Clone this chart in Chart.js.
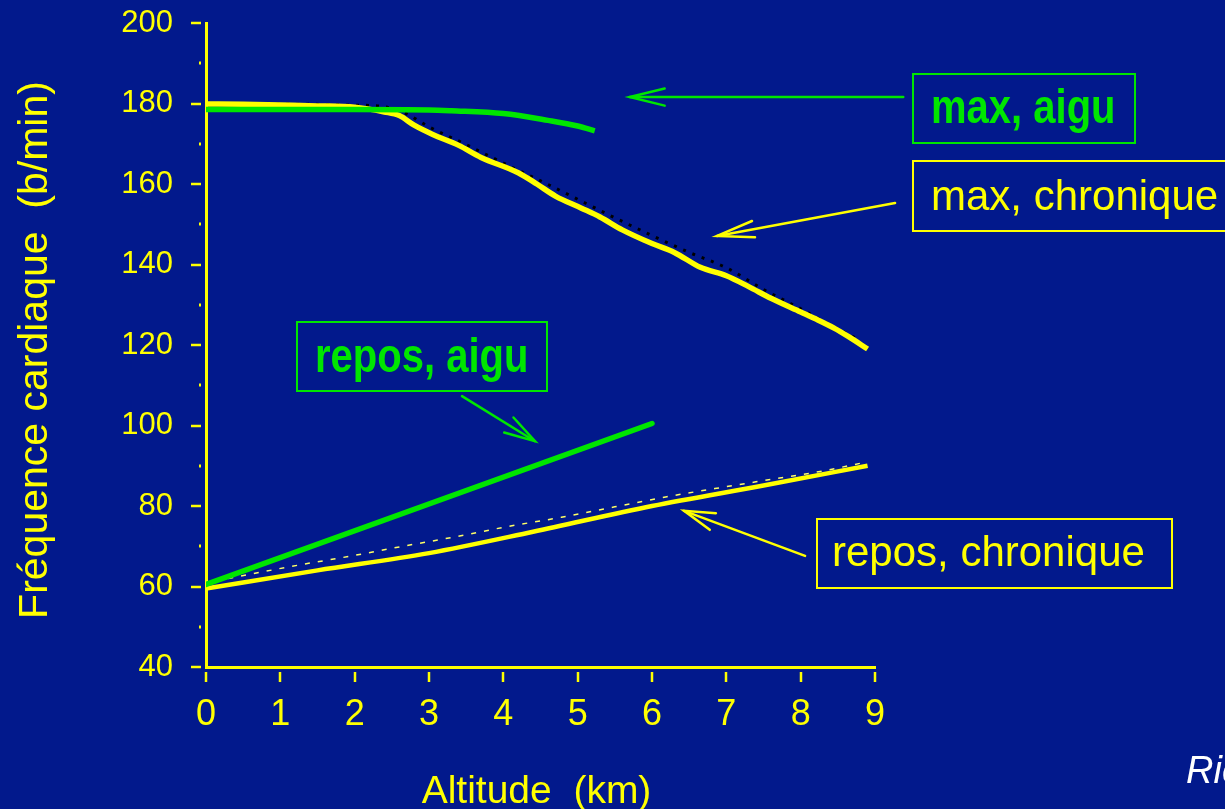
<!DOCTYPE html>
<html><head><meta charset="utf-8">
<script src="https://cdn.jsdelivr.net/npm/chart.js@4.4.1/dist/chart.umd.min.js"></script>
<style>
html,body{margin:0;padding:0;background:#02198c;overflow:hidden;width:1225px;height:809px;}
#wrap{position:relative;width:1225px;height:809px;overflow:hidden;}
canvas{position:absolute;left:0;top:0;}
.box{position:absolute;box-sizing:border-box;border:2.5px solid;}
.lbl{position:absolute;white-space:nowrap;font-family:"Liberation Sans",Arial,sans-serif;}
.stretch{transform:scaleY(1.18);transform-origin:0 33.85px;}
</style></head><body>
<div id="wrap">
<canvas id="c" width="1225" height="809"></canvas>
<div class="box" style="left:912px;top:73px;width:224px;height:71px;border-color:#00e600;"></div>
<div class="lbl stretch" style="left:931px;top:89px;font-size:40px;line-height:40px;font-weight:bold;color:#00e600;">max, aigu</div>
<div class="box" style="left:912px;top:160px;width:340px;height:72px;border-color:#ffff00;"></div>
<div class="lbl" style="left:931px;top:175px;font-size:42px;line-height:42px;color:#ffff00;">max, chronique</div>
<div class="box" style="left:296px;top:321px;width:252px;height:71px;border-color:#00e600;"></div>
<div class="lbl stretch" style="left:315px;top:337.5px;font-size:40px;line-height:40px;font-weight:bold;color:#00e600;">repos, aigu</div>
<div class="box" style="left:816px;top:518px;width:357px;height:71px;border-color:#ffff00;"></div>
<div class="lbl" style="left:832px;top:531px;font-size:42px;line-height:42px;color:#ffff00;">repos, chronique</div>
<div class="lbl" style="left:1186px;top:751px;font-size:38px;line-height:38px;font-style:italic;color:#ffffff;">Richalet</div>
</div>
<script>
// ---- data ----
const altMaxChron = [0,0.5,1,1.5,2,2.4,2.6,2.8,3.05,3.4,3.7,4.2,4.45,4.7,5.05,5.3,5.6,6.0,6.3,6.65,7.0,7.3,7.6,8.0,8.2,8.45,8.65,8.9];
const hrMaxChron  = [179.9,179.8,179.6,179.4,179.1,177.9,177,174.6,172.3,169.6,166.6,162.8,160,157,154,151.8,148.6,145.2,143,139.3,137.2,134.5,131.6,128.2,126.5,124.2,122,119];
const altMaxChronFit = [0,2,2.4,2.7,3,3.5,4,4.5,5,5.5,6,6.5,7,7.5,8,8.5,8.8];
const hrMaxChronFit  = [180,179.6,179.2,177.4,174.2,169.8,165.2,160.8,156.2,151.6,147.2,143,139.2,133.8,129,124,121.2];
const altMaxAigu = [0,1,2,3,3.3,4,4.6,5,5.23];
const hrMaxAigu  = [178.5,178.5,178.5,178.4,178.2,177.5,175.8,174.4,173.2];
const altReposAigu = [0,6];
const hrReposAigu  = [60.5,100.5];
const altReposChron = [0,1.5,3,4.4,6,7.5,8.9];
const hrReposChron  = [59.5,64,68.3,73.6,80,85.1,90];
const altReposChronFit = [0.3,0.55,1.24,1.96,2.68,3.37,4.06,4.78,5.5,6.2,6.9,7.6,8.3,8.85];
const hrReposChronFit  = [62,62.9,65.3,67.6,70.1,72.4,74.9,77.2,79.8,82.3,84.5,86.6,88.7,90.8];
const xTicks = [0,1,2,3,4,5,6,7,8,9];
const yTicks = [40,60,80,100,120,140,160,180,200];
const yMinorTicks = [50,70,90,110,130,150,170,190];
const xTitle = 'Altitude  (km)';
const yTitle = 'Fréquence cardiaque  (b/min)';
// annotation arrows in data units: [tailX, tailY, tipX, tipY]
const arrowMaxAigu   = [9.38,181.6,5.70,181.6];
const arrowMaxChron  = [9.27,155.3,6.875,147.1];
const arrowReposAigu = [3.444,107.3,4.426,96.1];
const arrowReposChron= [8.059,67.6,6.431,78.8];

const YEL = '#ffff00', GRN = '#00e600';
const FONT = '"Liberation Sans", Arial, sans-serif';
const pts = (xs, ys) => xs.map((v,i)=>({x:v,y:ys[i]}));

const deco = {
  id:'deco',
  afterDatasetsDraw(chart){
    const {ctx, scales:{x,y}, chartArea:a} = chart;
    ctx.save();
    ctx.strokeStyle = YEL; ctx.fillStyle = YEL; ctx.lineWidth = 2.5;
    yTicks.forEach(v=>{ const py = Math.round(y.getPixelForValue(v)); ctx.beginPath(); ctx.moveTo(a.left-15,py); ctx.lineTo(a.left-5,py); ctx.stroke(); });
    yMinorTicks.forEach(v=>{ const py = Math.round(y.getPixelForValue(v)); ctx.fillRect(a.left-7,py-1.5,2,3); });
    xTicks.forEach(v=>{ const px = Math.round(x.getPixelForValue(v)); ctx.beginPath(); ctx.moveTo(px,a.bottom+5); ctx.lineTo(px,a.bottom+15); ctx.stroke(); });
    // axis titles
    ctx.font = '39px ' + FONT; ctx.textAlign = 'center'; ctx.textBaseline = 'alphabetic';
    ctx.fillText(xTitle, (a.left + a.right)/2 - 4, a.bottom + 136);
    ctx.save();
    ctx.font = '41px ' + FONT;
    ctx.translate(47, (a.top + a.bottom)/2 + 5);
    ctx.rotate(-Math.PI/2);
    ctx.fillText(yTitle, 0, 0);
    ctx.restore();
    const arrow = (ar, color, len, ang) => {
      const tx = x.getPixelForValue(ar[0]), ty = y.getPixelForValue(ar[1]);
      const hx = x.getPixelForValue(ar[2]), hy = y.getPixelForValue(ar[3]);
      const th = Math.atan2(ty-hy, tx-hx);
      ctx.strokeStyle = color; ctx.lineWidth = 2.5; ctx.lineCap='round';
      ctx.beginPath(); ctx.moveTo(tx,ty); ctx.lineTo(hx,hy); ctx.stroke();
      ctx.beginPath();
      ctx.moveTo(hx+len*Math.cos(th+ang), hy+len*Math.sin(th+ang));
      ctx.lineTo(hx,hy);
      ctx.lineTo(hx+len*Math.cos(th-ang), hy+len*Math.sin(th-ang));
      ctx.stroke();
    };
    arrow(arrowMaxAigu, GRN, 36, 0.24);
    arrow(arrowMaxChron, YEL, 38, 0.22);
    arrow(arrowReposAigu, GRN, 32, 0.28);
    arrow(arrowReposChron, YEL, 32, 0.28);
    ctx.restore();
  }
};

new Chart(document.getElementById('c'), {
  type:'line',
  data:{ datasets:[
    {label:'max, aigu', data:pts(altMaxAigu,hrMaxAigu), borderColor:GRN, borderWidth:5.5, pointRadius:0, order:1, borderCapStyle:'butt', cubicInterpolationMode:'monotone'},
    {label:'repos, aigu', data:pts(altReposAigu,hrReposAigu), borderColor:GRN, borderWidth:5.5, pointRadius:0, order:1, borderCapStyle:'round'},
    {label:'max, chronique', data:pts(altMaxChron,hrMaxChron), borderColor:YEL, borderWidth:5.5, pointRadius:0, order:2, borderJoinStyle:'round', cubicInterpolationMode:'monotone'},
    {label:'repos, chronique', data:pts(altReposChron,hrReposChron), borderColor:YEL, borderWidth:4.5, pointRadius:0, order:2, cubicInterpolationMode:'monotone'},
    {label:'max fit', data:pts(altMaxChronFit,hrMaxChronFit), borderColor:'#000000', borderWidth:3, borderDash:[3,7], pointRadius:0, order:3, cubicInterpolationMode:'monotone'},
    {label:'repos fit', data:pts(altReposChronFit,hrReposChronFit), borderColor:'#ffff66', borderWidth:1.5, borderDash:[5,8], pointRadius:0, order:3, cubicInterpolationMode:'monotone'}
  ]},
  options:{
    responsive:false, animation:false, devicePixelRatio:1,
    layout:{padding:{left:0,right:350,top:23,bottom:0}},
    plugins:{legend:{display:false}, tooltip:{enabled:false}},
    elements:{line:{tension:0, fill:false}},
    scales:{
      x:{type:'linear', min:0, max:9,
        afterFit(s){ s.height = 142; s.paddingLeft = 0; s.paddingRight = 0; },
        grid:{display:false, drawTicks:false},
        border:{display:true, color:YEL, width:3},
        ticks:{stepSize:1, color:YEL, padding:26, font:{family:FONT, size:36}}
      },
      y:{type:'linear', min:40, max:200,
        afterFit(s){ s.width = 206; s.paddingTop = 0; s.paddingBottom = 0; },
        grid:{display:false, drawTicks:false},
        border:{display:true, color:YEL, width:3},
        ticks:{stepSize:20, color:YEL, padding:33, font:{family:FONT, size:31}}
      }
    }
  },
  plugins:[deco]
});
</script>
</body></html>
